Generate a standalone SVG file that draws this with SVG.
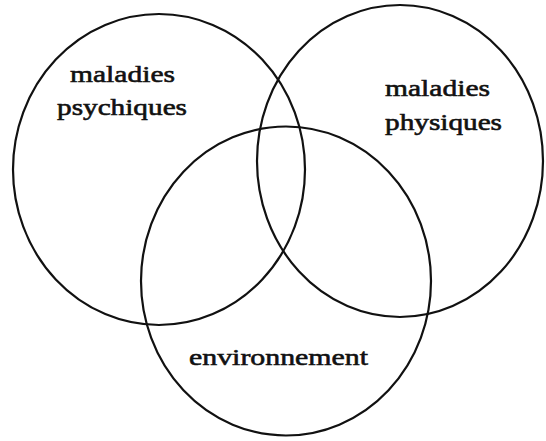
<svg xmlns="http://www.w3.org/2000/svg" width="546" height="441" viewBox="0 0 546 441">
<style>
.c{fill:none;stroke:#111;stroke-width:2.2}
.t{font-family:'Liberation Serif','Times New Roman','DejaVu Serif',serif;font-size:24px;fill:#111;stroke:#111;stroke-width:0.6}
</style>
<rect width="546" height="441" fill="#fff"/>
<g id="psychiques">
<ellipse class="c" cx="159" cy="169.5" rx="146" ry="155.5"/>
<text class="t" x="70" y="82" textLength="105" lengthAdjust="spacingAndGlyphs">maladies</text>
<text class="t" x="57" y="115" textLength="130" lengthAdjust="spacingAndGlyphs">psychiques</text>
</g>
<g id="physiques">
<ellipse class="c" cx="400" cy="161" rx="143" ry="156"/>
<text class="t" x="385" y="96" textLength="105" lengthAdjust="spacingAndGlyphs">maladies</text>
<text class="t" x="385" y="130" textLength="117" lengthAdjust="spacingAndGlyphs">physiques</text>
</g>
<g id="environnement">
<ellipse class="c" cx="286" cy="281" rx="145" ry="154.5"/>
<text class="t" x="189" y="365" textLength="179" lengthAdjust="spacingAndGlyphs">environnement</text>
</g>
<g id="connectors"></g>
</svg>
